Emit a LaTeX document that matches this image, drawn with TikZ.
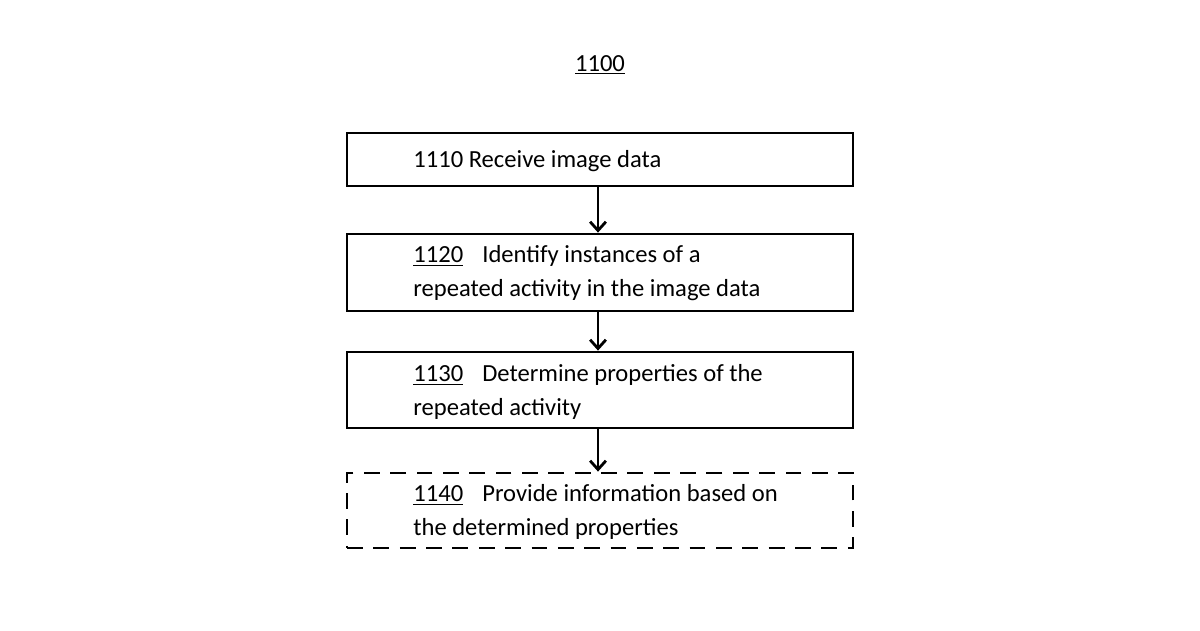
\documentclass[tikz,border=0pt]{standalone}
\usepackage{fontspec}
\setmainfont{Carlito}
\usetikzlibrary{arrows.meta}
\begin{document}
\begin{tikzpicture}[x=0.02cm,y=-0.02cm,
  box/.style={draw,line width=1.6pt,minimum width=10.12cm,inner sep=0pt},
  lbl/.style={anchor=west,align=left,inner sep=0pt,font=\fontsize{14pt}{19.5pt}\selectfont},
  arr/.style={line width=1.6pt,-{Straight Barb[length=5pt,width=9pt]}}]
\useasboundingbox (0,0) rectangle (1200,630);
\node[font=\fontsize{14pt}{17pt}\selectfont] (t) at (600,65) {\underline{1100}};
\node[box,minimum height=1.06cm] (b1) at (600,159.5) {};
\node[box,minimum height=1.54cm] (b2) at (600,272.5) {};
\node[box,minimum height=1.52cm] (b3) at (600,390) {};
\node[box,dashed,dash pattern=on 9pt off 6pt,minimum height=1.5cm] (b4) at (600,510.5) {};
\node[lbl] (l1) at (413,161) {1110 Receive image data};
\node[lbl] (l2) at (413,273) {\underline{1120}\hspace{0.55em} Identify instances of a\\repeated activity in the image data};
\node[lbl] (l3) at (413,392) {\underline{1130}\hspace{0.55em} Determine properties of the\\repeated activity};
\node[lbl] (l4) at (413,512) {\underline{1140}\hspace{0.55em} Provide information based on\\the determined properties};
\draw[arr] (b1.south -| 598,0) -- (b2.north -| 598,0);
\draw[arr] (b2.south -| 598,0) -- (b3.north -| 598,0);
\draw[arr] (b3.south -| 598,0) -- (b4.north -| 598,0);
\end{tikzpicture}
\end{document}
